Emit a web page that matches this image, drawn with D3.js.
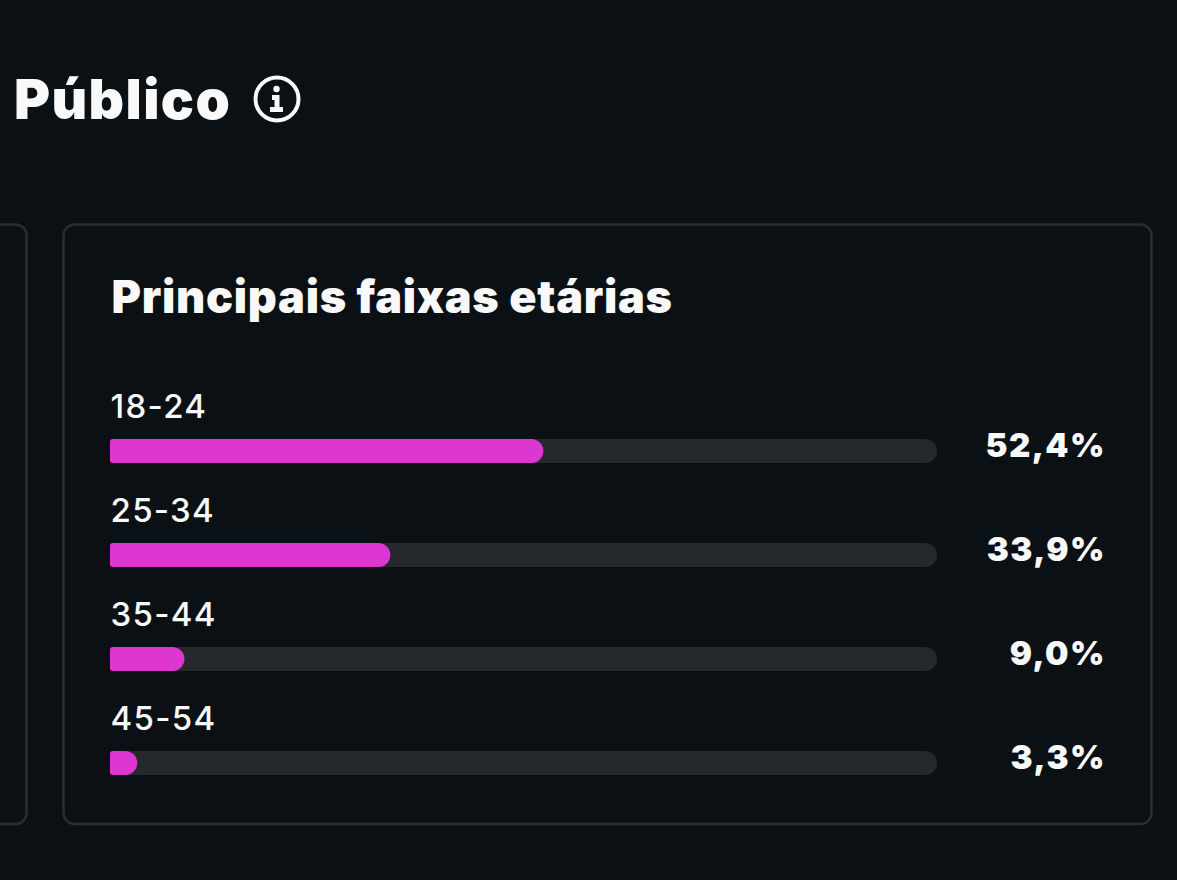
<!DOCTYPE html>
<html>
<head>
<meta charset="utf-8">
<script src="https://cdnjs.cloudflare.com/ajax/libs/d3/7.8.5/d3.min.js"></script>
<style>
  html, body { margin: 0; padding: 0; background: #0b1014; overflow: hidden; }
  text { font-family: Inter, "Noto Sans", sans-serif; fill: #f9f9f9; }
</style>
</head>
<body>
<div id="graphic_area"></div>
<script>
const ageGroups = ["18-24", "25-34", "35-44", "45-54"];
const shares = [52.4, 33.9, 9.0, 3.3];

const width = 1177;
const height = 880;
const background = "#0b1014";
const borderColor = "#2a2d32";
const trackColor = "#25282c";
const barColor = "#dd36d1";

const svg = d3.select("#graphic_area").append("svg")
  .attr("width", width)
  .attr("height", height)
  .style("display", "block");

svg.append("rect").attr("width", width).attr("height", height).attr("fill", background);

// page title with the info icon
svg.append("text")
  .attr("x", 14).attr("y", 119)
  .style("font-size", "55px").style("font-weight", 900)
  .style("letter-spacing", "1.4px")
  .text("Público");

const icon = svg.append("g").attr("transform", "translate(277,99)");
icon.append("circle").attr("r", 21.5).attr("fill", "none").attr("stroke", "#f9f9f9").attr("stroke-width", 4);
icon.append("circle").attr("cx", -0.5).attr("cy", -10).attr("r", 3.2).attr("fill", "#f9f9f9");
icon.append("path")
  .attr("d", "M-5,-4H2.5V8H6V13H-7V8H-2.5V1H-5Z")
  .attr("fill", "#f9f9f9");

// left card, only its right edge is in the frame
svg.append("rect")
  .attr("x", -60).attr("y", 224.5).attr("width", 86.5).attr("height", 599.5).attr("rx", 11)
  .attr("fill", "none").attr("stroke", borderColor).attr("stroke-width", 2.5);

svg.append("rect")
  .attr("x", 63.5).attr("y", 224.5).attr("width", 1088).attr("height", 599.5).attr("rx", 11)
  .attr("fill", "none").attr("stroke", borderColor).attr("stroke-width", 2.5);

svg.append("text")
  .attr("x", 111.5).attr("y", 313)
  .style("font-size", "45px").style("font-weight", 900)
  .style("letter-spacing", "0.72px")
  .text("Principais faixas etárias");

const xScale = d3.scaleLinear().domain([0, 100]).range([110, 937]);
const yScale = d3.scaleBand().domain(ageGroups).range([439, 855]).paddingInner(0).paddingOuter(0);
const barHeight = 24;

// small radius on the left, pill end on the right
function barPath(x0, x1, y, h) {
  const left = 3;
  const right = Math.min(h / 2, x1 - x0 - left);
  const p = d3.path();
  p.moveTo(x0 + left, y);
  p.lineTo(x1 - right, y);
  p.arcTo(x1, y, x1, y + right, right);
  p.lineTo(x1, y + h - right);
  p.arcTo(x1, y + h, x1 - right, y + h, right);
  p.lineTo(x0 + left, y + h);
  p.arcTo(x0, y + h, x0, y + h - left, left);
  p.lineTo(x0, y + left);
  p.arcTo(x0, y, x0 + left, y, left);
  p.closePath();
  return p.toString();
}

const rows = svg.selectAll(".row")
  .data(ageGroups)
  .join("g")
  .attr("class", "row")
  .attr("transform", d => "translate(0," + yScale(d) + ")");

rows.append("text")
  .attr("x", 110.5).attr("y", -21.5)
  .style("font-size", "33px").style("font-weight", 450).style("letter-spacing", "1.3px")
  .text(d => d);

rows.append("path")
  .attr("d", barPath(xScale(0), xScale(100), 0, barHeight))
  .attr("fill", trackColor);

rows.append("path")
  .attr("d", (d, i) => barPath(xScale(0), xScale(shares[i]), 0, barHeight))
  .attr("fill", barColor);

rows.append("text")
  .attr("x", 1105.8).attr("y", 18)
  .attr("text-anchor", "end")
  .style("font-size", "33px").style("font-weight", 900).style("letter-spacing", "1.4px")
  .text((d, i) => d3.format(".1f")(shares[i]).replace(".", ",") + "%");
</script>
</body>
</html>
